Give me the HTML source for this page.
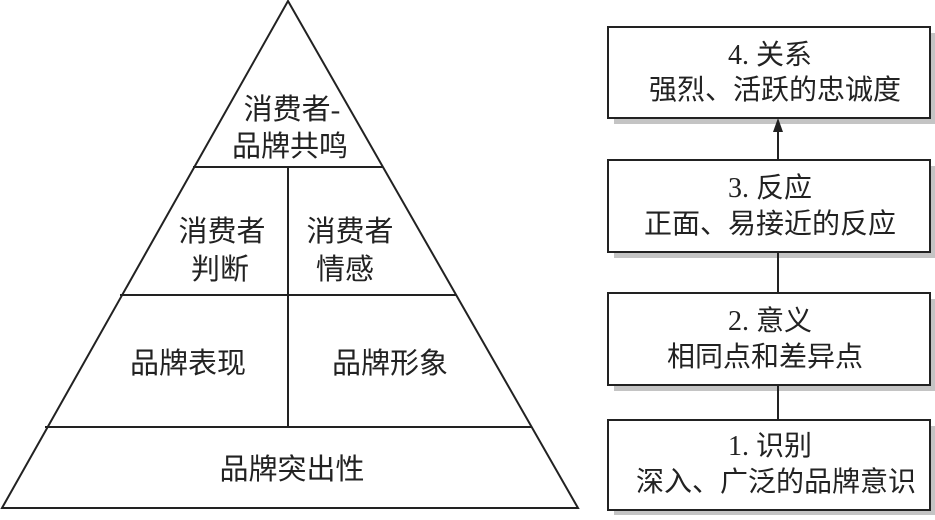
<!DOCTYPE html>
<html><head><meta charset="utf-8"><style>
body{margin:0;background:#fff;width:935px;height:515px;overflow:hidden}
text{font-family:"Liberation Serif","Noto Sans CJK SC",sans-serif;fill:#222}
</style></head><body>
<svg width="935" height="515" viewBox="0 0 935 515" xmlns="http://www.w3.org/2000/svg">
<g stroke="#222" stroke-width="2" fill="none">
<polygon points="288,1 578,508 2,508"/>
<line x1="193" y1="167" x2="383" y2="167"/>
<line x1="120" y1="295" x2="456" y2="295"/>
<line x1="45" y1="427" x2="531" y2="427"/>
<line x1="288" y1="167" x2="288" y2="427"/>
</g>
<g font-size="29" text-anchor="middle">
<text x="292" y="119">消费者-</text>
<text x="290" y="156">品牌共鸣</text>
<text x="222" y="241">消费者</text>
<text x="220" y="279">判断</text>
<text x="350" y="241">消费者</text>
<text x="345" y="279">情感</text>
<text x="188" y="373">品牌表现</text>
<text x="390" y="373">品牌形象</text>
<text x="292" y="479">品牌突出性</text>
</g>
<g fill="#c4c4c4">
<rect x="614" y="33" width="322" height="91"/>
<rect x="614" y="166" width="322" height="92"/>
<rect x="614" y="299" width="322" height="92"/>
<rect x="614" y="426" width="322" height="90"/>
</g>
<g stroke="#222" stroke-width="2" fill="#fff">
<rect x="608" y="27" width="322" height="91"/>
<rect x="608" y="160" width="322" height="92"/>
<rect x="608" y="293" width="322" height="92"/>
<rect x="608" y="420" width="322" height="90"/>
</g>
<g stroke="#222" stroke-width="2">
<line x1="778" y1="130" x2="778" y2="160"/>
<line x1="778" y1="252" x2="778" y2="293"/>
<line x1="778" y1="385" x2="778" y2="420"/>
</g>
<polygon points="778,118 773,132 783,132" fill="#222"/>
<g font-size="28" text-anchor="middle">
<text x="770" y="64">4. 关系</text>
<text x="775" y="99">强烈、活跃的忠诚度</text>
<text x="770" y="197">3. 反应</text>
<text x="770" y="233">正面、易接近的反应</text>
<text x="770" y="330">2. 意义</text>
<text x="765" y="366">相同点和差异点</text>
<text x="770" y="455">1. 识别</text>
<text x="776" y="491">深入、广泛的品牌意识</text>
</g>
</svg>
</body></html>
